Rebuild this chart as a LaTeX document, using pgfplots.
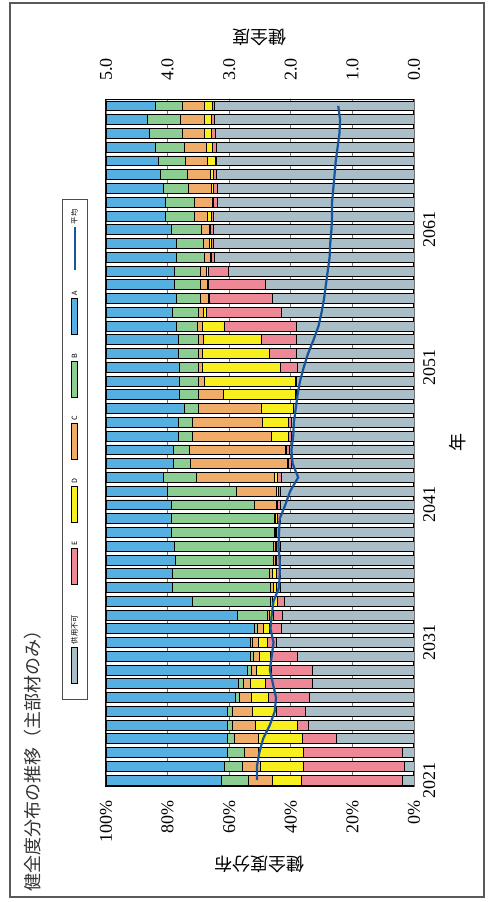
\documentclass[border=0pt]{standalone}
\usepackage{fontspec}
\setmainfont{Liberation Serif}
\newfontfamily\jp{Noto Sans CJK JP}
\usepackage{pgfplots}
\pgfplotsset{compat=1.18}
\usepackage{pgfplotstable}

\definecolor{cA}{RGB}{85,175,225}
\definecolor{cB}{RGB}{140,205,145}
\definecolor{cC}{RGB}{240,172,105}
\definecolor{cD}{RGB}{248,240,30}
\definecolor{cE}{RGB}{238,135,150}
\definecolor{cG}{RGB}{170,190,200}
\definecolor{cLine}{RGB}{25,85,155}

\pgfplotstableread{
year G E D C B A avg
2021 3.8 32.6 9.7 7.8 8.7 37.4 2.55
2022 3.2 32.7 14.1 5.7 5.8 38.5 2.55
2023 3.8 32.1 14.5 4.8 5.3 39.5 2.51
2024 25.1 11.0 14.4 7.9 2.1 39.5 2.45
2025 34.3 3.6 13.7 7.4 1.5 39.5 2.34
2026 35.1 9.5 7.9 6.6 1.4 39.5 2.26
2027 33.8 13.6 5.3 4.1 1.3 41.9 2.24
2028 33.0 15.1 4.9 2.4 1.6 43.0 2.29
2029 33.0 13.3 4.8 1.8 1.2 45.9 2.34
2030 37.9 8.6 3.7 1.9 1.1 46.8 2.31
2031 44.6 3.0 2.8 2.0 0.8 46.8 2.28
2032 43.2 3.6 2.1 2.0 0.9 48.2 2.33
2033 42.7 3.0 1.1 0.8 9.8 42.6 2.31
2034 42.1 2.3 1.5 0.7 25.3 28.1 2.28
2035 43.3 1.3 1.1 0.8 32.0 21.5 2.19
2036 43.3 1.5 1.1 0.9 31.7 21.5 2.18
2037 43.3 1.3 0.4 0.8 31.8 22.4 2.18
2038 43.5 1.1 0.4 0.7 32.0 22.3 2.20
2039 44.0 0.6 0.3 0.4 33.6 21.1 2.19
2040 43.5 0.9 0.5 0.4 33.6 21.1 2.18
2041 43.5 0.7 0.5 7.2 27.0 21.1 2.09
2042 43.3 0.7 0.7 12.9 22.6 19.8 2.01
2043 42.9 1.5 0.9 25.3 10.8 18.6 1.88
2044 39.9 0.9 0.4 31.5 5.3 22.0 1.97
2045 40.3 1.0 0.5 31.1 5.1 22.0 1.99
2046 39.9 0.8 5.6 25.6 4.7 23.4 1.96
2047 39.7 1.0 8.4 22.8 4.7 23.4 1.95
2048 39.0 0.2 10.5 20.3 4.7 25.3 1.92
2049 38.3 0.2 23.4 8.2 6.2 23.7 1.89
2050 38.3 0.2 29.7 1.9 6.2 23.7 1.85
2051 37.9 5.6 25.1 1.5 6.2 23.7 1.79
2052 38.1 8.9 21.7 1.4 6.4 23.5 1.72
2053 38.3 11.1 19.0 1.7 6.5 23.4 1.63
2054 38.1 23.6 6.9 1.7 6.8 22.9 1.55
2055 43.2 24.1 1.0 1.8 8.4 21.5 1.50
2056 46.1 20.2 0.4 2.6 7.8 22.9 1.46
2057 48.2 18.5 0.3 2.5 8.2 22.3 1.43
2058 60.4 6.3 0.7 2.1 8.2 22.3 1.40
2059 64.8 1.1 0.3 2.0 8.9 22.9 1.37
2060 65.2 0.7 0.6 1.9 8.7 22.9 1.36
2061 65.2 0.8 0.5 2.5 9.9 21.1 1.34
2062 65.2 0.7 1.1 4.2 9.4 19.4 1.33
2063 63.9 1.3 0.4 5.7 9.3 19.4 1.33
2064 63.7 1.5 0.6 7.3 8.3 18.6 1.31
2065 64.1 1.1 0.8 7.6 8.7 17.7 1.29
2066 64.1 0.5 2.4 7.2 8.8 17.0 1.27
2067 64.3 1.1 2.1 7.1 9.5 15.9 1.24
2068 64.6 1.1 2.2 7.2 10.9 14.0 1.21
2069 64.7 1.1 2.3 7.9 10.7 13.3 1.20
2070 64.7 0.9 2.5 7.0 8.9 16.0 1.23
}\datatable

\begin{document}
\begin{tikzpicture}
\useasboundingbox (0,0) rectangle (244.5pt,451pt);
\fill[white] (0,0) rectangle (244.5pt,451pt);
\draw[line width=0.6pt, black!65] (5pt,2.5pt) rectangle (242pt,449.5pt);
\node[rotate=90, anchor=west, inner sep=0pt, text=black!80,
      font=\jp\fontsize{9}{10}\selectfont] at (16.5pt,5pt) {健全度分布の推移（主部材のみ）};

% legend (rotated, as in the reference)
\begin{scope}[shift={(37.25pt,226.25pt)}, rotate=90,
   every node/.style={transform shape, inner sep=0pt, anchor=west, font=\jp\fontsize{3.6}{4}\selectfont}]
  \draw[black!70, line width=0.5pt] (-125pt,-6.25pt) rectangle (125pt,6.25pt);
  \draw[fill=cG, line width=0.4pt] (-117pt,-1.6pt) rectangle (-99pt,1.6pt);
  \node at (-97.5pt,0) {供用不可};
  \draw[fill=cE, line width=0.4pt] (-67.5pt,-1.6pt) rectangle (-49.5pt,1.6pt);
  \node at (-48pt,0) {E};
  \draw[fill=cD, line width=0.4pt] (-36.5pt,-1.6pt) rectangle (-18.5pt,1.6pt);
  \node at (-17pt,0) {D};
  \draw[fill=cC, line width=0.4pt] (-5pt,-1.6pt) rectangle (13pt,1.6pt);
  \node at (14.5pt,0) {C};
  \draw[fill=cB, line width=0.4pt] (26pt,-1.6pt) rectangle (44pt,1.6pt);
  \node at (45.5pt,0) {B};
  \draw[fill=cA, line width=0.4pt] (57.5pt,-1.6pt) rectangle (75.5pt,1.6pt);
  \node at (77pt,0) {A};
  \draw[cLine, line width=1pt] (89.5pt,0) -- (111pt,0);
  \node at (112.5pt,0) {平均};
\end{scope}

\begin{axis}[
  at={(130pt,229.5pt)}, anchor=center,
  scale only axis, width=154pt, height=344pt,
  xbar stacked, bar width=0.72,
  xmin=0, xmax=100, x dir=reverse,
  ymin=2020.5, ymax=2070.5,
  xtick={0,20,40,60,80,100},
  xticklabels={0\%,20\%,40\%,60\%,80\%,100\%},
  xticklabel style={rotate=90, anchor=east, font=\fontsize{9}{10}\selectfont},
  xticklabel shift=3pt,
  ytick={2021,2031,2041,2051,2061},
  yticklabels={2021,2031,2041,2051,2061},
  yticklabel pos=right,
  yticklabel style={rotate=90, anchor=north, font=\fontsize{9}{10}\selectfont},
  yticklabel shift=1pt,
  tick style={draw=none},
  axis line style={black, line width=0.5pt},
  xmajorgrids, grid style={black!55, line width=0.4pt},
  xlabel={健全度分布},
  xlabel style={at={(axis description cs:0.5,-0.113)}, anchor=center, rotate=180, font=\jp\fontsize{9}{10}\selectfont},
  ylabel={年},
  ylabel style={at={(axis description cs:1.143,0.5)}, anchor=center, font=\jp\fontsize{9}{10}\selectfont},
]
\addplot[fill=cG, draw=black, line width=0.4pt] table[x=G, y=year] {\datatable};
\addplot[fill=cE, draw=black, line width=0.4pt] table[x=E, y=year] {\datatable};
\addplot[fill=cD, draw=black, line width=0.4pt] table[x=D, y=year] {\datatable};
\addplot[fill=cC, draw=black, line width=0.4pt] table[x=C, y=year] {\datatable};
\addplot[fill=cB, draw=black, line width=0.4pt] table[x=B, y=year] {\datatable};
\addplot[fill=cA, draw=black, line width=0.4pt] table[x=A, y=year] {\datatable};
\end{axis}

\begin{axis}[
  at={(130pt,229.5pt)}, anchor=center,
  scale only axis, width=154pt, height=344pt,
  xmin=0, xmax=5, x dir=reverse,
  ymin=2020.5, ymax=2070.5,
  axis x line*=top, hide y axis,
  xtick={0,1,2,3,4,5},
  xticklabels={0.0,1.0,2.0,3.0,4.0,5.0},
  xticklabel style={rotate=90, anchor=west, font=\fontsize{9}{10}\selectfont},
  xticklabel shift=5.5pt,
  tick style={draw=none},
  axis line style={black, line width=0.5pt},
  xlabel={健全度},
  xlabel style={at={(axis description cs:0.5,1.090)}, anchor=center, rotate=180, font=\jp\fontsize{9}{10}\selectfont},
]
\addplot[cLine, line width=1.1pt] table[x=avg, y=year] {\datatable};
\end{axis}
\end{tikzpicture}
\end{document}
